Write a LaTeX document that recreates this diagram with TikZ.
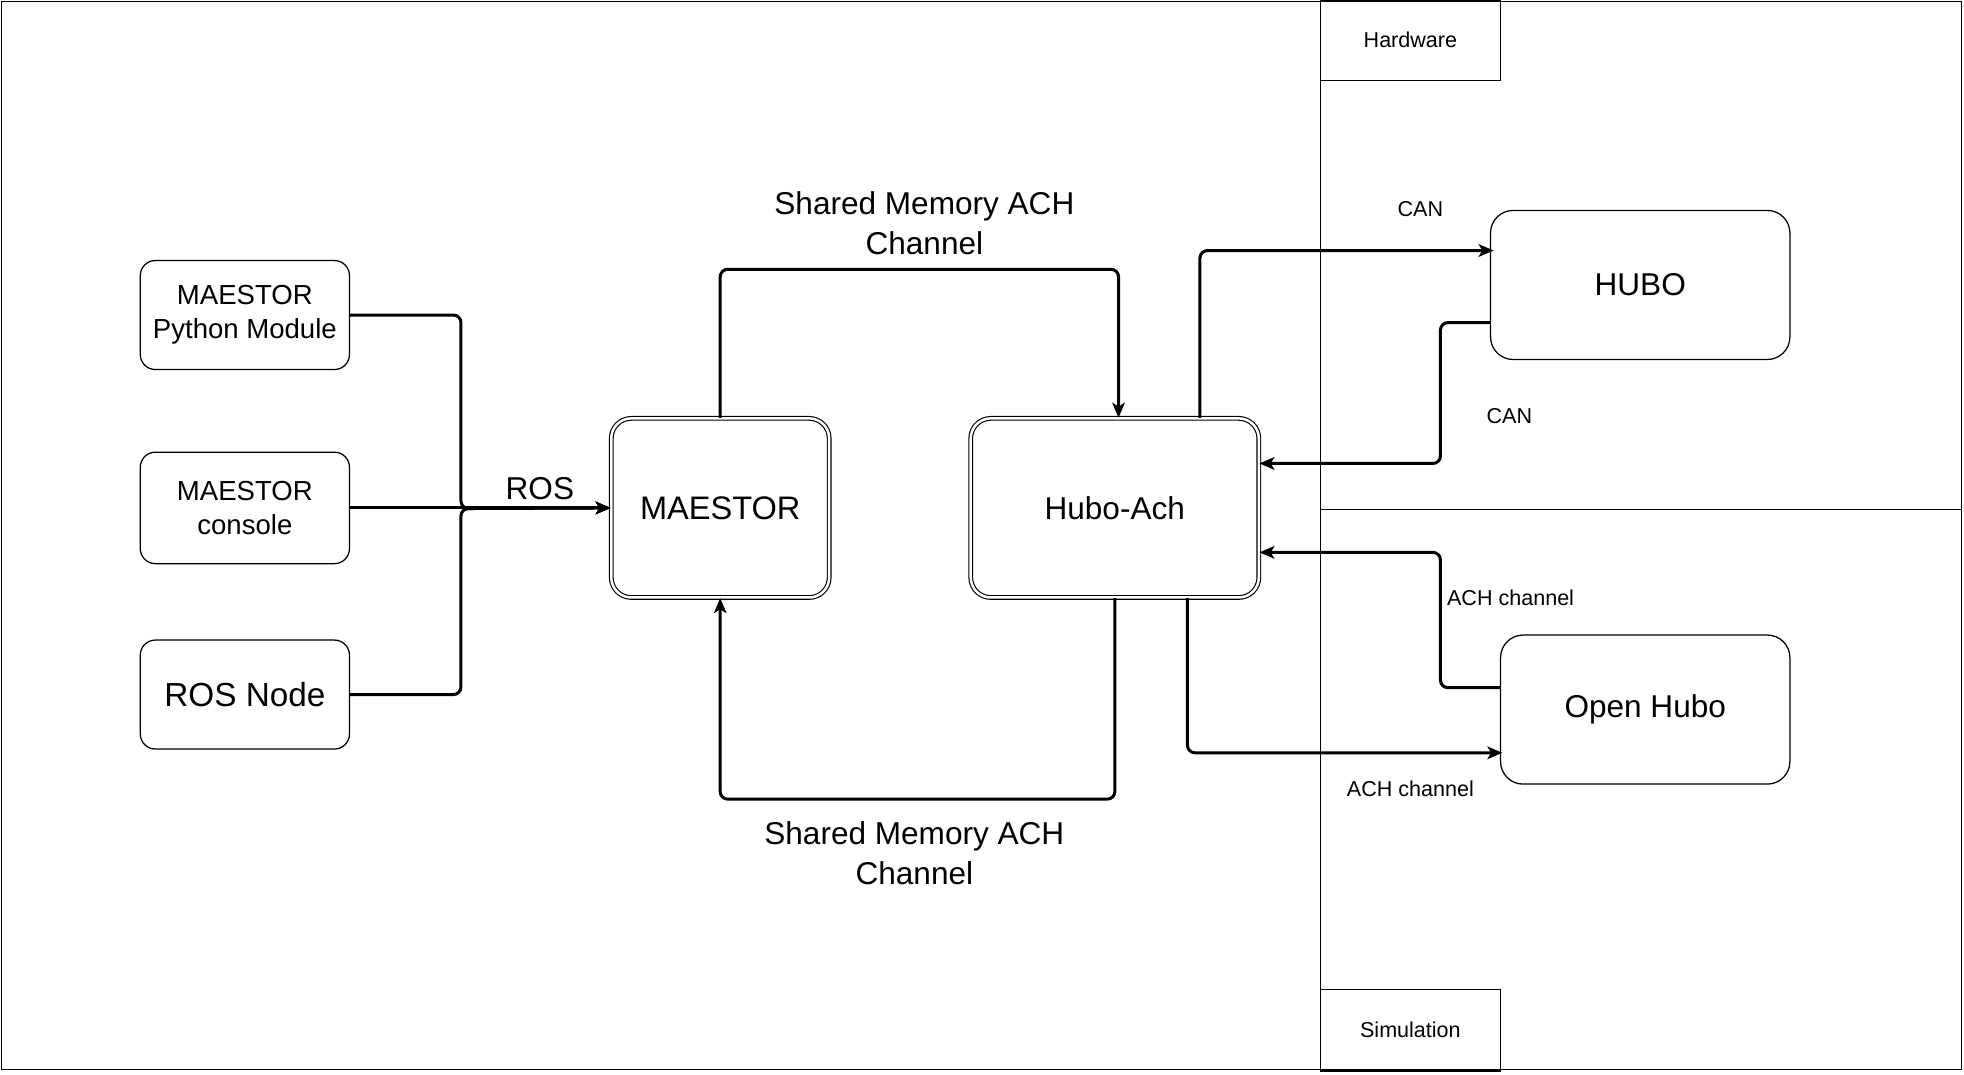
\documentclass[tikz,border=0pt]{standalone}
\usepackage{fontspec}
\setmainfont{Liberation Sans}
\usetikzlibrary{shapes, calc, arrows.meta, positioning}

\begin{document}
\begin{tikzpicture}[x=0.5pt, y=-0.5pt, >={Stealth[length=6pt, width=5pt, inset=1.5pt]},
    txtsmall/.style={font=\fontsize{8.6}{10.5}\selectfont},
    txtmid/.style={font=\fontsize{11}{13.5}\selectfont},
    txtbig/.style={font=\fontsize{12.6}{16}\selectfont},
    modbox/.style={draw, rounded corners=6pt, line width=0.5pt, align=center, inner sep=0pt},
    corebox/.style={draw, rounded corners=8pt, line width=0.45pt, double, double distance=1pt, align=center, inner sep=0pt, txtbig},
    robotbox/.style={draw, rounded corners=9pt, line width=0.5pt, align=center, inner sep=0pt, txtbig},
    tagbox/.style={draw, line width=0.5pt, inner sep=0pt, txtsmall},
    conn/.style={line width=1.2pt, rounded corners=3pt}]
    \useasboundingbox (0,0) rectangle (1568,858);

    % frame and lanes
    \draw[line width=0.5pt] (1,1) rectangle (1566,854);
    \draw[line width=0.5pt] (1054,1) -- (1054,854);
    \draw[line width=0.5pt] (1054,407) -- (1566,407);
    \path (1126,32) node[tagbox, minimum width=72pt, minimum height=32pt] (hw) {Hardware};
    \path (1126,822.5) node[tagbox, minimum width=72pt, minimum height=32.5pt] (sim) {Simulation};

    % clients
    \path (195.5,251.5) node[modbox, txtmid, minimum width=83.5pt, minimum height=43.5pt] (pym) {MAESTOR\\Python Module};
    \path (195.5,405.5) node[modbox, txtmid, minimum width=83.5pt, minimum height=44.5pt] (con) {MAESTOR\\console};
    \path (195.5,554.5) node[modbox, font=\fontsize{13.3}{16}\selectfont, minimum width=83.5pt, minimum height=43.5pt] (rnode) {ROS Node};

    % core
    \path (575,405.5) node[corebox, font=\fontsize{13}{16}\selectfont, minimum width=87pt, minimum height=71.5pt] (maestor) {MAESTOR};
    \path (890,405.5) node[corebox, minimum width=115pt, minimum height=71.5pt] (hach) {Hubo-Ach};

    % robots
    \path (1309.5,227.5) node[robotbox, minimum width=119.5pt, minimum height=59.5pt] (hubo) {HUBO};
    \path (1313.5,566.5) node[robotbox, minimum width=115.5pt, minimum height=59.5pt] (ohubo) {Open Hubo};

    \coordinate (bus) at (368,406);
    \coordinate (smtop) at (893,215);
    \coordinate (smbot) at (890,638);
    \coordinate (cantop) at (958,200);
    \coordinate (canback) at (1150,370);
    \coordinate (achback) at (1150,441);
    \coordinate (achfwd) at (948,601);

    \draw[conn, ->] (pym.east) -| (bus) -- (maestor.west);
    \draw[conn, ->] (rnode.east) -| (bus) -- (maestor.west);
    \draw[conn, ->] (con.east) -- (maestor.west);
    \path (431,390) node[txtbig] (ros) {ROS};

    \draw[conn, ->] (maestor.north) |- (smtop) -- (smtop |- hach.north);
    \draw[conn, ->] (hach.south) |- (maestor.south |- smbot) -- (maestor.south);
    \path (738,178) node[txtbig, align=center] (smtoplbl) {Shared Memory ACH\\Channel};
    \path (730,681) node[txtbig, align=center] (smbotlbl) {Shared Memory ACH\\Channel};

    \draw[conn, ->] (cantop |- hach.north) |- ([xshift=1.5pt]hubo.west |- cantop);
    \draw[conn, ->] ($(hubo.west)+(0,30)$) -| (canback) -- (canback -| hach.east);
    \draw[conn, ->] ($(ohubo.west)+(0,-17.5)$) -| (achback) -- (achback -| hach.east);
    \draw[conn, ->] (achfwd |- hach.south) |- ([xshift=1pt]achfwd -| ohubo.west);
    \path (1134,167) node[txtsmall] (can1) {CAN};
    \path (1205,332) node[txtsmall] (can2) {CAN};
    \path (1206,477) node[txtsmall] (ach1) {ACH channel};
    \path (1126,630) node[txtsmall] (ach2) {ACH channel};
\end{tikzpicture}
\end{document}
